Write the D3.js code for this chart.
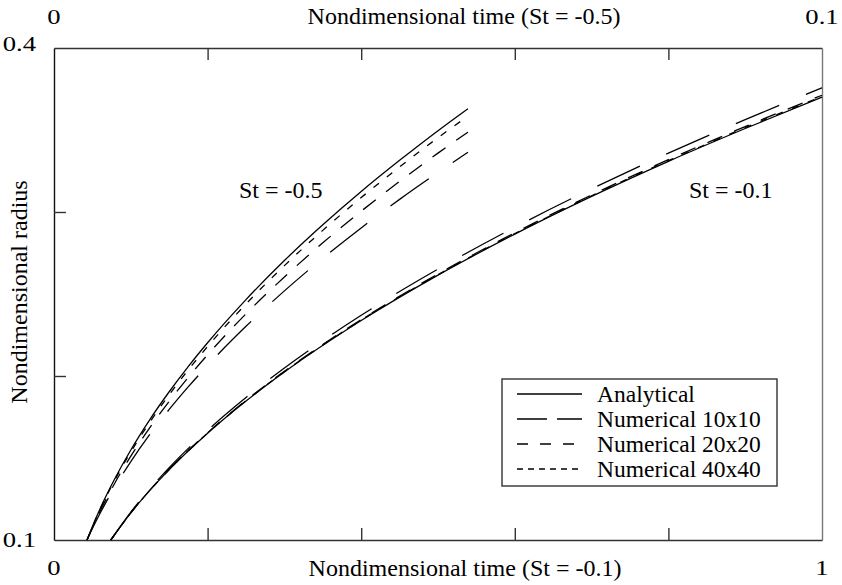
<!DOCTYPE html>
<html><head><meta charset="utf-8">
<script src="https://cdn.jsdelivr.net/npm/d3@7"></script>
<style>
body{margin:0;background:#fff}
svg{display:block}
text{font-family:"Liberation Serif","Times New Roman",serif;fill:#000}
</style>
</head><body>
<svg id="c" width="842" height="585"></svg>
<script>
// ---- data ----
const timeSt01 = [0.074,0.1,0.15,0.2,0.25,0.3,0.4,0.5,0.6,0.7,0.8,0.9,1.0];
const st01Analytical = [0.1,0.1165,0.1429,0.1651,0.1847,0.2024,0.2338,0.2615,0.2865,0.3095,0.3309,0.3509,0.3700];
const st01Num10 = [0.1,0.1170,0.1441,0.1669,0.1869,0.2049,0.2370,0.2652,0.2907,0.3141,0.3359,0.3563,0.3757];
const st01Num20 = [0.1,0.1166,0.1431,0.1654,0.1851,0.2029,0.2344,0.2622,0.2873,0.3104,0.3319,0.3521,0.3712];
const st01Num40 = [0.1,0.1165,0.1430,0.1652,0.1849,0.2026,0.2341,0.2618,0.2868,0.3099,0.3313,0.3514,0.3705];

const timeSt05 = [0.0043,0.005,0.006,0.008,0.010,0.0125,0.015,0.0175,0.02,0.025,0.03,0.035,0.04,0.045,0.05,0.0539];
const st05Analytical = [0.1,0.1083,0.1191,0.1381,0.1549,0.1736,0.1904,0.2059,0.2203,0.2466,0.2704,0.2922,0.3125,0.3315,0.3496,0.3630];
const st05Num10 = [0.1,0.1070,0.1163,0.1330,0.1478,0.1645,0.1796,0.1935,0.2065,0.2303,0.2519,0.2718,0.2903,0.3077,0.3241,0.3364];
const st05Num20 = [0.1,0.1076,0.1176,0.1354,0.1511,0.1687,0.1846,0.1993,0.2129,0.2379,0.2604,0.2812,0.3005,0.3187,0.3359,0.3487];
const st05Num40 = [0.1,0.1080,0.1186,0.1373,0.1537,0.1720,0.1886,0.2038,0.2180,0.2439,0.2673,0.2888,0.3088,0.3275,0.3453,0.3585];

const bottomTicks = [0.2,0.4,0.6,0.8];
const bottomLabels = ["0","1"];
const topTicks = [0.02,0.04,0.06,0.08];
const topLabels = ["0","0.1"];
const leftTicks = [0.2,0.3];
const leftLabels = ["0.1","0.4"];
const legendNames = ["Analytical","Numerical 10x10","Numerical 20x20","Numerical 40x40"];
const bottomTitle = "Nondimensional time (St = -0.1)";
const topTitle = "Nondimensional time (St = -0.5)";
const yTitle = "Nondimensional radius";
const curveLabels = ["St = -0.5","St = -0.1"];

// ---- layout ----
const L=54,R=822,T=48,B=540;
const svg = d3.select("#c");
const x = d3.scaleLinear().domain([0,1]).range([L,R]);
const xTop = d3.scaleLinear().domain([0,0.1]).range([L,R]);
const y = d3.scaleLinear().domain([0.1,0.4]).range([B,T]);

const dashPlot = [null,"47,29","16,13","7,10"];
const dashLegend = [null,"30,10","11,12","6,5"];

const axisCol="#333";
const gB = svg.append("g").attr("transform",`translate(0,${B})`)
  .call(d3.axisBottom(x).tickValues(bottomTicks).tickSizeInner(-12).tickSizeOuter(0).tickFormat(""));
const gT = svg.append("g").attr("transform",`translate(0,${T})`)
  .call(d3.axisTop(xTop).tickValues(topTicks).tickSizeInner(-12).tickSizeOuter(0).tickFormat(""));
const gL = svg.append("g").attr("transform",`translate(${L},0)`)
  .call(d3.axisLeft(y).tickValues(leftTicks).tickSizeInner(-12).tickSizeOuter(0).tickFormat(""));
const gR = svg.append("g").attr("transform",`translate(${R},0)`)
  .call(d3.axisRight(y).tickValues([]).tickSizeOuter(0));
[gB,gT,gL,gR].forEach(g=>{
  g.selectAll("path,line").attr("stroke",axisCol).attr("stroke-width",1.4);
});
gL.select("path").attr("stroke","#111");
gR.selectAll("path").attr("stroke","#777");

const fs = 24;
const tfs = 20.5;
function tickText(px,py,anchor,s){
  svg.append("text").attr("transform",`translate(${px},${py}) scale(1.3,1)`)
    .attr("text-anchor",anchor).attr("font-size",tfs).text(s);
}
tickText(x(0),575,"middle",bottomLabels[0]);
tickText(x(1),575,"middle",bottomLabels[1]);
tickText(xTop(0),24,"middle",topLabels[0]);
tickText(xTop(0.1),24,"middle",topLabels[1]);
tickText(36,y(0.1)+7,"end",leftLabels[0]);
tickText(36,y(0.4)+3,"end",leftLabels[1]);
// titles
svg.append("text").attr("x",465).attr("y",576).attr("text-anchor","middle").attr("font-size",fs).text(bottomTitle);
svg.append("text").attr("x",464).attr("y",24).attr("text-anchor","middle").attr("font-size",fs).text(topTitle);
svg.append("text").attr("transform",`translate(27,292) rotate(-90)`).attr("text-anchor","middle").attr("font-size",fs).text(yTitle);
// curve labels
svg.append("text").attr("x",239).attr("y",198).attr("font-size",fs).text(curveLabels[0]);
svg.append("text").attr("x",689).attr("y",198).attr("font-size",fs).text(curveLabels[1]);

// lines
const line01 = d3.line().x(d=>x(d[0])).y(d=>y(d[1])).curve(d3.curveMonotoneX);
const line05 = d3.line().x(d=>xTop(d[0])).y(d=>y(d[1])).curve(d3.curveMonotoneX);
const s01 = [st01Analytical,st01Num10,st01Num20,st01Num40];
const s05 = [st05Analytical,st05Num10,st05Num20,st05Num40];
const gLines = svg.append("g");
s01.forEach((s,i)=>{
  gLines.append("path").attr("d",line01(d3.zip(timeSt01,s))).attr("fill","none")
    .attr("stroke","#000").attr("stroke-width",1.3).attr("stroke-dasharray",dashPlot[i]);
});
s05.forEach((s,i)=>{
  gLines.append("path").attr("d",line05(d3.zip(timeSt05,s))).attr("fill","none")
    .attr("stroke","#000").attr("stroke-width",1.3).attr("stroke-dasharray",dashPlot[i]);
});

// legend
const lg = svg.append("g");
lg.append("rect").attr("x",502).attr("y",379).attr("width",275).attr("height",107)
  .attr("fill","#fff").attr("stroke","#333").attr("stroke-width",1.4);
legendNames.forEach((n,i)=>{
  const yy = 394 + i*25;
  lg.append("line").attr("x1",517).attr("x2",582).attr("y1",yy).attr("y2",yy)
    .attr("stroke","#000").attr("stroke-width",1.3).attr("stroke-dasharray",dashLegend[i]);
  lg.append("text").attr("x",597).attr("y",yy+8).attr("font-size",23.5).text(n);
});
</script>
</body></html>
